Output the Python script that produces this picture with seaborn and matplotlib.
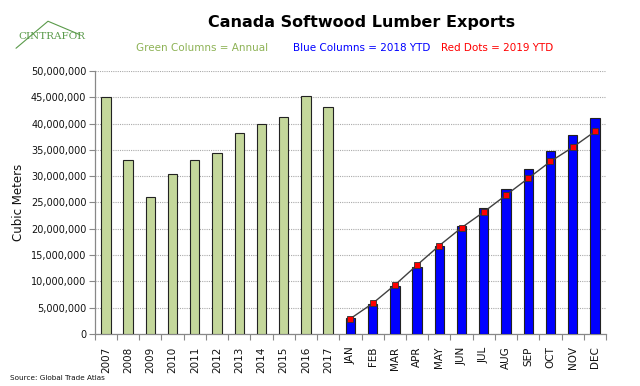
import numpy as np
import pandas as pd
import matplotlib
matplotlib.use("Agg")
import matplotlib.pyplot as plt
import seaborn as sns
from matplotlib.ticker import FuncFormatter, MultipleLocator, FixedLocator

years = ["2007", "2008", "2009", "2010", "2011", "2012", "2013", "2014", "2015", "2016", "2017"]
annual = [45.0, 33.0, 26.0, 30.4, 33.1, 34.5, 38.3, 40.0, 41.3, 45.2, 43.1]
months = ["JAN", "FEB", "MAR", "APR", "MAY", "JUN", "JUL", "AUG", "SEP", "OCT", "NOV", "DEC"]
ytd2018 = [3.0, 5.7, 9.2, 12.8, 16.7, 20.5, 24.0, 27.6, 31.3, 34.8, 37.9, 41.1]
ytd2019 = [2.9, 5.8, 9.3, 13.1, 16.8, 20.2, 23.2, 26.4, 29.6, 32.8, 35.5, 38.5]

green = "#C4D79B"
blue = "#0000FF"
red = "#FF0000"

cats = years + months
df = pd.DataFrame({
    "cat": cats,
    "value": np.array(annual + ytd2018) * 1e6,
    "group": ["Annual"] * len(years) + ["2018 YTD"] * len(months),
})

sns.set_theme(style="white")
plt.rcParams["font.family"] = ["DejaVu Sans"]

fig = plt.figure(figsize=(6.4, 3.86), dpi=100)
ax = fig.add_axes([0.148, 0.135, 0.799, 0.681])

sns.barplot(data=df, x="cat", y="value", hue="group", order=cats,
            palette={"Annual": green, "2018 YTD": blue}, dodge=False, saturation=1,
            width=0.42, edgecolor="#222222", linewidth=0.8, legend=False, ax=ax, zorder=3)

pos = [cats.index(m) for m in months]
ax.plot(pos, np.array(ytd2019) * 1e6, color="#404040", lw=1.0, marker="s",
        markersize=5, markerfacecolor=red, markeredgecolor="#333333",
        markeredgewidth=0.6, zorder=5)

ax.set_xlim(-0.5, len(cats) - 0.5)
ax.set_ylim(0, 50e6)
ax.yaxis.set_major_locator(MultipleLocator(5e6))
ax.yaxis.set_major_formatter(FuncFormatter(lambda v, p: f"{int(v):,}"))
ax.grid(axis="y", color="#AAAAAA", linestyle=(0, (1, 1)), linewidth=0.8, zorder=0)
ax.set_axisbelow(True)

for s in ["top", "right"]:
    ax.spines[s].set_visible(False)
for s in ["left", "bottom"]:
    ax.spines[s].set_color("#888888")
    ax.spines[s].set_linewidth(0.9)

ax.set_xlabel("")
ax.set_ylabel("Cubic Meters", fontsize=8.5, color="#111111", labelpad=4)
ax.tick_params(axis="y", which="major", left=True, length=4, width=0.8, color="#888888",
               labelsize=7, pad=2, labelcolor="#111111")
ax.tick_params(axis="x", which="major", bottom=False, labelsize=7.5, labelrotation=90,
               pad=3, labelcolor="#111111")
ax.xaxis.set_minor_locator(FixedLocator(np.arange(-0.5, len(cats), 1.0)))
ax.tick_params(axis="x", which="minor", bottom=True, length=4, width=0.8, color="#888888")

fig.text(0.565, 0.943, "Canada Softwood Lumber Exports", ha="center", va="center",
         fontsize=11.5, fontweight="bold", color="#000000")
fig.text(0.2125, 0.876, "Green Columns = Annual", ha="left", va="center", fontsize=7.5, color="#8DB255")
fig.text(0.458, 0.876, "Blue Columns = 2018 YTD", ha="left", va="center", fontsize=7.5, color=blue)
fig.text(0.689, 0.876, "Red Dots = 2019 YTD", ha="left", va="center", fontsize=7.5, color=red)

# logo
fig.text(0.028, 0.905, "CINTRAFOR", ha="left", va="center", fontsize=7.5,
         family="DejaVu Serif", color="#5A9A4A")
fig.add_artist(plt.Line2D([0.025, 0.075, 0.125], [0.875, 0.945, 0.91],
                          color="#5A9A4A", lw=0.8, transform=fig.transFigure))

fig.text(0.015, 0.013, "Source: Global Trade Atlas", ha="left", va="bottom", fontsize=5.2, color="#111111")

fig.savefig("out.png", dpi=100)
